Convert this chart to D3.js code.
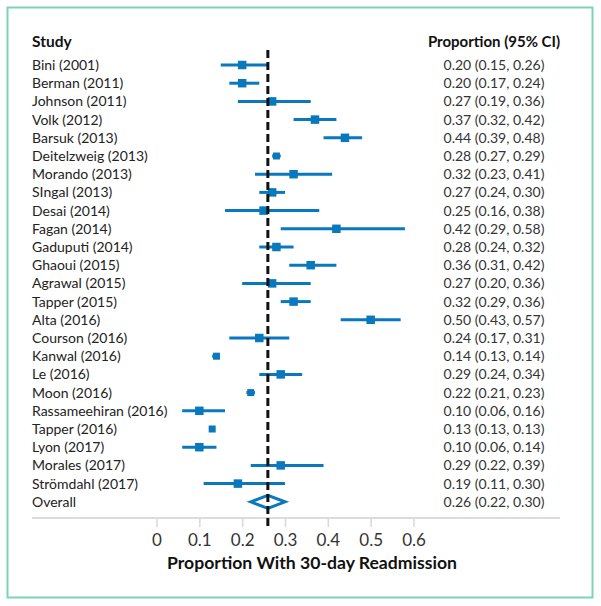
<!DOCTYPE html>
<html>
<head>
<meta charset="utf-8">
<script src="https://cdn.jsdelivr.net/npm/d3@7"></script>
<style>
html,body{margin:0;padding:0;background:#fff;}
svg{display:block;}
</style>
</head>
<body>
<svg id="chart" width="601" height="606"></svg>
<script>
const studies = ["Bini (2001)","Berman (2011)","Johnson (2011)","Volk (2012)","Barsuk (2013)","Deitelzweig (2013)","Morando (2013)","SIngal (2013)","Desai (2014)","Fagan (2014)","Gaduputi (2014)","Ghaoui (2015)","Agrawal (2015)","Tapper (2015)","Alta (2016)","Courson (2016)","Kanwal (2016)","Le (2016)","Moon (2016)","Rassameehiran (2016)","Tapper (2016)","Lyon (2017)","Morales (2017)","Strömdahl (2017)"];
const est  = [0.20,0.20,0.27,0.37,0.44,0.28,0.32,0.27,0.25,0.42,0.28,0.36,0.27,0.32,0.50,0.24,0.14,0.29,0.22,0.10,0.13,0.10,0.29,0.19];
const lower= [0.15,0.17,0.19,0.32,0.39,0.27,0.23,0.24,0.16,0.29,0.24,0.31,0.20,0.29,0.43,0.17,0.13,0.24,0.21,0.06,0.13,0.06,0.22,0.11];
const upper= [0.26,0.24,0.36,0.42,0.48,0.29,0.41,0.30,0.38,0.58,0.32,0.42,0.36,0.36,0.57,0.31,0.14,0.34,0.23,0.16,0.13,0.14,0.39,0.30];
const ciText = ["0.20 (0.15, 0.26)","0.20 (0.17, 0.24)","0.27 (0.19, 0.36)","0.37 (0.32, 0.42)","0.44 (0.39, 0.48)","0.28 (0.27, 0.29)","0.32 (0.23, 0.41)","0.27 (0.24, 0.30)","0.25 (0.16, 0.38)","0.42 (0.29, 0.58)","0.28 (0.24, 0.32)","0.36 (0.31, 0.42)","0.27 (0.20, 0.36)","0.32 (0.29, 0.36)","0.50 (0.43, 0.57)","0.24 (0.17, 0.31)","0.14 (0.13, 0.14)","0.29 (0.24, 0.34)","0.22 (0.21, 0.23)","0.10 (0.06, 0.16)","0.13 (0.13, 0.13)","0.10 (0.06, 0.14)","0.29 (0.22, 0.39)","0.19 (0.11, 0.30)"];
const overall = {label:"Overall", est:0.26, lower:0.22, upper:0.30, text:"0.26 (0.22, 0.30)"};
const xTicks = [0,0.1,0.2,0.3,0.4,0.5,0.6];
const xTickLabels = ["0","0.1","0.2","0.3","0.4","0.5","0.6"];
const smallMarker = ["Deitelzweig (2013)","Kanwal (2016)","Tapper (2016)","Moon (2016)"];

const svg = d3.select("#chart");
const font = "Lato, 'Open Sans', sans-serif";
const blue = "#0a78bd";

// frame
svg.append("rect").attr("x",7.5).attr("y",7.5).attr("width",585).attr("height",590)
  .attr("fill","none").attr("stroke","#7ed3b5").attr("stroke-width",2);

const x = d3.scaleLinear().domain([0,0.6]).range([156.5,413.5]);
const rows = studies.concat([overall.label]);
const y = d3.scalePoint().domain(rows).range([65, 65+24*18.2]);

// headers
svg.append("text").attr("x",32).attr("y",42).attr("dy","0.35em")
  .attr("font-family",font).attr("font-weight","bold").attr("font-size",15.5).attr("fill","#111").text("Study");
svg.append("text").attr("x",494).attr("y",42).attr("dy","0.35em").attr("text-anchor","middle")
  .attr("font-family",font).attr("font-weight","bold").attr("font-size",15).attr("fill","#111").text("Proportion (95% CI)");

// labels
svg.append("g").selectAll("text").data(rows).join("text")
  .attr("x",32).attr("y",d=>y(d)).attr("dy","0.35em")
  .attr("font-family",font).attr("font-size",14).attr("fill","#222").text(d=>d);
svg.append("g").selectAll("text").data(ciText.concat([overall.text])).join("text")
  .attr("x",494).attr("y",(d,i)=>y(rows[i])).attr("dy","0.35em").attr("text-anchor","middle")
  .attr("font-family",font).attr("font-size",14).attr("fill","#333").text(d=>d);

// axis
const axisY = 518;
const axisG = svg.append("g").attr("transform",`translate(0,${axisY})`)
  .call(d3.axisBottom(x).tickValues(xTicks).tickFormat((d,i)=>xTickLabels[i]).tickSize(9).tickPadding(7));
axisG.select(".domain").remove();
axisG.selectAll(".tick line").attr("stroke","#d8d8d8").attr("stroke-width",1.5);
axisG.selectAll(".tick text").attr("font-family",font).attr("font-size",17).attr("fill","#333");
svg.append("line").attr("x1",32).attr("x2",560).attr("y1",axisY).attr("y2",axisY)
  .attr("stroke","#dcdcdc").attr("stroke-width",2);
svg.append("text").attr("x",312).attr("y",563).attr("dy","0.35em").attr("text-anchor","middle")
  .attr("font-family",font).attr("font-weight","bold").attr("font-size",17.6).attr("fill","#111")
  .text("Proportion With 30-day Readmission");

// CI lines
const g = svg.append("g");
g.selectAll("line.ci").data(studies).join("line").attr("class","ci")
  .attr("x1",(d,i)=>x(lower[i])).attr("x2",(d,i)=>x(upper[i]))
  .attr("y1",d=>y(d)).attr("y2",d=>y(d))
  .attr("stroke",blue).attr("stroke-width",3);
g.selectAll("rect.pt").data(studies).join("rect").attr("class","pt")
  .each(function(d,i){
    const s = smallMarker.includes(d) ? 7 : 8.5;
    d3.select(this).attr("x",x(est[i])-s/2).attr("y",y(d)-s/2).attr("width",s).attr("height",s);
  })
  .attr("fill",blue);

// diamond
const oy = y(overall.label);
svg.append("path")
  .attr("d",`M${x(overall.lower)},${oy}L${x(overall.est)},${oy-6.5}L${x(overall.upper)},${oy}L${x(overall.est)},${oy+6.5}Z`)
  .attr("fill","#fff").attr("stroke",blue).attr("stroke-width",3);

// reference dashed line
svg.append("line").attr("x1",x(overall.est)).attr("x2",x(overall.est)).attr("y1",50).attr("y2",527)
  .attr("stroke","#111").attr("stroke-width",3).attr("stroke-dasharray","8,4");
</script>
</body>
</html>
